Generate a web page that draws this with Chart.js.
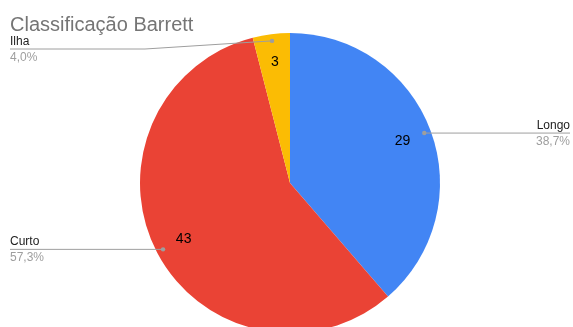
<!DOCTYPE html>
<html>
<head>
<meta charset="utf-8">
<script src="https://cdn.jsdelivr.net/npm/chart.js@4"></script>
<style>
    html, body { margin: 0; padding: 0; background: #fff; overflow: hidden; }
    #wrap { width: 573px; height: 340px; }
</style>
</head>
<body>
<div id="wrap"><canvas id="chart" width="573" height="340"></canvas></div>
<script>
const chartTitle = 'Classificação Barrett';
const categories = ['Longo', 'Curto', 'Ilha'];
const values = [29, 43, 3];
const sliceColors = ['#4285f4', '#ea4335', '#fbbc04'];

const FONT = '"Liberation Sans", Arial, sans-serif';

// draws the title, value labels and the leader lines with name + percent
const labelPlugin = {
    id: 'pieLabels',
    afterDraw(chart) {
        const ctx = chart.ctx;
        const meta = chart.getDatasetMeta(0);
        const total = values.reduce((a, b) => a + b, 0);

        ctx.save();
        ctx.fillStyle = '#757575';
        ctx.font = '20px ' + FONT;
        ctx.textAlign = 'left';
        ctx.textBaseline = 'alphabetic';
        ctx.fillText(chartTitle, 10, 31);

        meta.data.forEach((arc, i) => {
            const p = arc.getProps(['x', 'y', 'startAngle', 'endAngle', 'outerRadius'], true);
            const mid = (p.startAngle + p.endAngle) / 2;
            const R = p.outerRadius;

            // value inside the slice
            ctx.fillStyle = '#000';
            ctx.font = '14px ' + FONT;
            ctx.textAlign = 'center';
            ctx.textBaseline = 'middle';
            ctx.fillText(String(values[i]), p.x + Math.cos(mid) * R * 0.8, p.y + Math.sin(mid) * R * 0.81);

            // leader line
            const dx = p.x + Math.cos(mid) * R * 0.955;
            const dy = p.y + Math.sin(mid) * R * 0.955;
            const right = Math.cos(mid) > 0;
            const lineY = Math.max(dy, 49);
            const endX = right ? 570 : 10;

            ctx.strokeStyle = '#9e9e9e';
            ctx.lineWidth = 1;
            ctx.beginPath();
            ctx.moveTo(dx, dy);
            if (Math.abs(lineY - dy) > 1) {
                const bendX = right ? p.x + R - 5 : p.x - R + 5;
                ctx.lineTo(bendX, lineY);
            }
            ctx.lineTo(endX, lineY);
            ctx.stroke();

            ctx.fillStyle = '#9e9e9e';
            ctx.beginPath();
            ctx.arc(dx, dy, 2.2, 0, Math.PI * 2);
            ctx.fill();

            // category name and percent
            const pct = (values[i] / total * 100).toFixed(1).replace('.', ',') + '%';
            ctx.textAlign = right ? 'right' : 'left';
            ctx.textBaseline = 'alphabetic';
            ctx.font = '12px ' + FONT;
            ctx.fillStyle = '#222';
            ctx.fillText(categories[i], endX, lineY - 4);
            ctx.fillStyle = '#9e9e9e';
            ctx.fillText(pct, endX, lineY + 12);
        });
        ctx.restore();
    }
};

new Chart(document.getElementById('chart'), {
    type: 'pie',
    data: {
        labels: categories,
        datasets: [{
            data: values,
            backgroundColor: sliceColors,
            borderWidth: 0
        }]
    },
    options: {
        responsive: false,
        animation: false,
        layout: {
            padding: { top: 33, bottom: 7, left: 140, right: 133 }
        },
        plugins: {
            legend: { display: false },
            tooltip: { enabled: false }
        }
    },
    plugins: [labelPlugin]
});
</script>
</body>
</html>
